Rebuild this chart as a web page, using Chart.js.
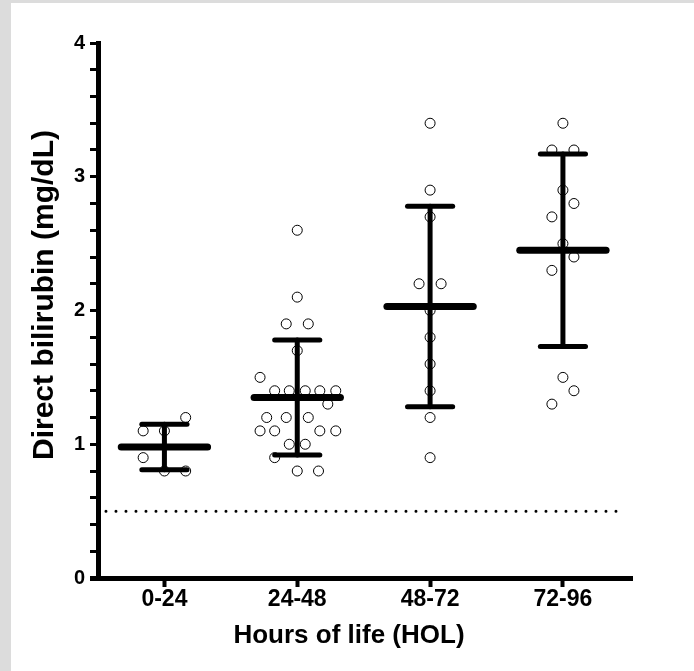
<!DOCTYPE html>
<html>
<head>
<meta charset="utf-8">
<script src="https://cdn.jsdelivr.net/npm/chart.js@4/dist/chart.umd.min.js"></script>
<style>
  html, body { margin: 0; padding: 0; background: #dcdcdc; }
  #frame { position: absolute; left: 11px; top: 3px; width: 683px; height: 668px; background: #fff; }
</style>
</head>
<body>
<div id="frame"><canvas id="chart" width="683" height="668"></canvas></div>
<script>
const categories = ["0-24", "24-48", "48-72", "72-96"];
const xTitle = "Hours of life (HOL)";
const yTitle = "Direct bilirubin (mg/dL)";
const cutoff = 0.5;

// individual patients per HOL group, with horizontal spread (category units)
const hol0Values = [1.2, 1.1, 1.1, 0.9, 0.8, 0.8];
const hol0Spread = [0.16, -0.16, 0, -0.16, 0, 0.16];

const hol24Values = [2.6, 2.1, 1.9, 1.9, 1.7, 1.5, 1.4, 1.4, 1.4, 1.4, 1.4, 1.3, 1.2, 1.2, 1.2, 1.1, 1.1, 1.1, 1.1, 1.0, 1.0, 0.9, 0.8, 0.8];
const hol24Spread = [0, 0, -0.083, 0.083, 0, -0.28, -0.17, -0.06, 0.06, 0.17, 0.29, 0.23, -0.23, -0.083, 0.083, -0.28, -0.17, 0.17, 0.29, -0.06, 0.06, -0.17, 0, 0.16];

const hol48Values = [3.4, 2.9, 2.7, 2.2, 2.2, 2.0, 1.8, 1.6, 1.4, 1.2, 0.9];
const hol48Spread = [0, 0, 0, -0.083, 0.083, 0, 0, 0, 0, 0, 0];

const hol72Values = [3.4, 3.2, 3.2, 2.9, 2.8, 2.7, 2.5, 2.4, 2.3, 1.5, 1.4, 1.3];
const hol72Spread = [0, -0.083, 0.083, 0, 0.083, -0.083, 0, 0.083, -0.083, 0, 0.083, -0.083];

// mean and SD bars as drawn
const means = [0.98, 1.35, 2.03, 2.45];
const sds = [0.17, 0.43, 0.75, 0.72];

const groups = [
  [hol0Values, hol0Spread],
  [hol24Values, hol24Spread],
  [hol48Values, hol48Spread],
  [hol72Values, hol72Spread],
];

function seg(points, width, extra) {
  return Object.assign({
    data: points,
    showLine: true,
    borderColor: "#000",
    borderWidth: width,
    borderCapStyle: "round",
    pointRadius: 0,
    fill: false,
  }, extra || {});
}

const datasets = [];

// cut-off line
datasets.push(seg([{ x: -0.44, y: cutoff }, { x: 3.45, y: cutoff }], 3, { borderDash: [0, 10] }));

// mean ± SD
means.forEach((m, i) => {
  const s = sds[i];
  datasets.push(seg([{ x: i - 0.325, y: m }, { x: i + 0.325, y: m }], 7));
  datasets.push(seg([{ x: i, y: m - s }, { x: i, y: m + s }], 5));
  datasets.push(seg([{ x: i - 0.17, y: m + s }, { x: i + 0.17, y: m + s }], 5));
  datasets.push(seg([{ x: i - 0.17, y: m - s }, { x: i + 0.17, y: m - s }], 5));
});

// individual points
groups.forEach(([vals, spread], i) => {
  datasets.push({
    data: vals.map((v, k) => ({ x: i + spread[k], y: v })),
    pointStyle: "circle",
    pointRadius: 5,
    pointBorderWidth: 1,
    pointBorderColor: "#000",
    pointBackgroundColor: "rgba(0,0,0,0)",
    showLine: false,
  });
});

const fam = "'Liberation Sans', Arial, sans-serif";

// y title sits a bit above the middle of the axis, like the original
const yTitlePlugin = {
  id: "yTitle",
  afterDraw(chart) {
    const ctx = chart.ctx;
    ctx.save();
    ctx.translate(34, 292);
    ctx.rotate(-Math.PI / 2);
    ctx.font = "bold 30px " + fam;
    ctx.fillStyle = "#000";
    ctx.textAlign = "center";
    ctx.textBaseline = "middle";
    ctx.fillText(yTitle, 0, 0);
    ctx.restore();
  },
};

new Chart(document.getElementById("chart"), {
  type: "scatter",
  data: { datasets },
  plugins: [yTitlePlugin],
  options: {
    responsive: false,
    animation: false,
    layout: { padding: { top: 40, right: 7, left: 0, bottom: 0 } },
    plugins: {
      legend: { display: false },
      tooltip: { enabled: false },
      title: {
        display: true,
        position: "bottom",
        text: xTitle,
        color: "#000",
        font: { family: fam, size: 26, weight: "bold" },
        padding: { top: 6, bottom: 20 },
      },
    },
    scales: {
      x: {
        type: "linear",
        min: -0.5,
        max: 3.52,
        afterBuildTicks: axis => { axis.ticks = categories.map((c, i) => ({ value: i })); },
        afterFit: axis => { axis.height = 35.8; },
        border: { display: true, color: "#000", width: 5 },
        grid: { drawOnChartArea: false, drawTicks: true, tickLength: 9, tickWidth: 4, tickColor: "#000" },
        ticks: {
          color: "#000",
          font: { family: fam, size: 23, weight: "bold" },
          padding: -1,
          maxRotation: 0,
          callback: v => categories[v] ?? "",
        },
      },
      y: {
        min: 0,
        max: 4,
        afterFit: axis => { axis.width = 87; },
        border: { display: true, color: "#000", width: 5 },
        grid: {
          drawOnChartArea: false,
          drawTicks: true,
          tickLength: 8,
          tickWidth: ctx => (ctx.tick && ctx.tick.value === 0 ? 5 : 3),
          tickColor: "#000",
        },
        ticks: {
          stepSize: 0.2,
          autoSkip: false,
          color: "#000",
          font: { family: fam, size: 20, weight: "bold" },
          padding: 5,
          callback: v => (Math.abs(v - Math.round(v)) < 1e-6 ? String(Math.round(v)) : ""),
        },
      },
      // empty right-hand box keeps the plot narrower than the bottom title
      yRight: {
        position: "right",
        display: true,
        afterFit: axis => { axis.width = 55; },
        grid: { display: false },
        border: { display: false },
        ticks: { display: false },
      },
    },
  },
});
</script>
</body>
</html>
